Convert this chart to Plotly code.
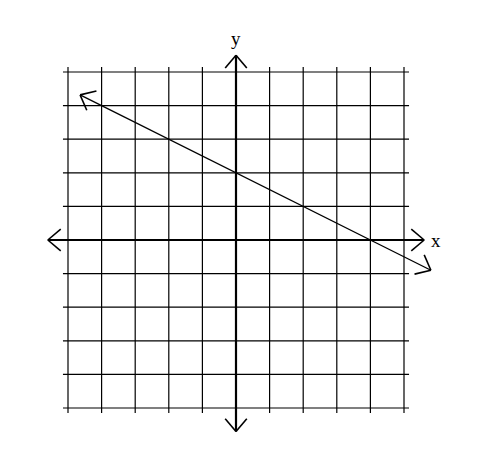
import numpy as np
import plotly.graph_objects as go

# grid positions and the graphed line y = m*x + b
grid_ticks = [-5, -4, -3, -2, -1, 0, 1, 2, 3, 4, 5]
slope = -0.5
intercept = 2
line_x = [-4.64, 5.8]
x_axis_ends = [-5.6, 5.6]
y_axis_ends = [-5.7, 5.5]

fig = go.Figure()


def add_seg(xs, ys, width=1.2):
    fig.add_trace(go.Scatter(x=xs, y=ys, mode="lines",
                             line=dict(color="black", width=width),
                             hoverinfo="skip", showlegend=False))


def add_head(tip, frm, width=1.6, size=0.5, angle=40):
    # open "V" arrowhead at tip, pointing away from frm
    d = np.array(tip) - np.array(frm)
    d = d / np.linalg.norm(d)
    for a in (angle, -angle):
        r = np.radians(a)
        rot = np.array([[np.cos(r), -np.sin(r)], [np.sin(r), np.cos(r)]])
        w = np.array(tip) - size * rot.dot(d)
        add_seg([tip[0], w[0]], [tip[1], w[1]], width)


# grid
g0, g1 = grid_ticks[0] - 0.15, grid_ticks[-1] + 0.15
for t in grid_ticks:
    if t != 0:
        add_seg([t, t], [g0, g1])
        add_seg([g0, g1], [t, t])

# axes
add_seg(x_axis_ends, [0, 0], 2.2)
add_seg([0, 0], y_axis_ends, 2.2)
add_head((x_axis_ends[1], 0), (0, 0))
add_head((x_axis_ends[0], 0), (0, 0))
add_head((0, y_axis_ends[1]), (0, 0))
add_head((0, y_axis_ends[0]), (0, 0))

# graphed line
line_y = [slope * v + intercept for v in line_x]
add_seg(line_x, line_y, 1.3)
add_head((line_x[0], line_y[0]), (line_x[1], line_y[1]))
add_head((line_x[1], line_y[1]), (line_x[0], line_y[0]))

fig.add_annotation(x=x_axis_ends[1] + 0.35, y=0, text="x", showarrow=False,
                   font=dict(family="Liberation Serif", size=19, color="black"))
fig.add_annotation(x=0, y=y_axis_ends[1] + 0.5, text="y", showarrow=False,
                   font=dict(family="Liberation Serif", size=19, color="black"))

# page body has an 8px margin, so the origin sits at (228, 232) in the plot
unit = 33.6
fig.update_xaxes(range=[-228 / unit, 251 / unit], visible=False)
fig.update_yaxes(range=[-230 / unit, 232 / unit], visible=False)
fig.update_layout(width=479, height=462, autosize=False,
                  margin=dict(l=0, r=0, t=0, b=0),
                  plot_bgcolor="white", paper_bgcolor="white")

fig.write_html("out.html")
